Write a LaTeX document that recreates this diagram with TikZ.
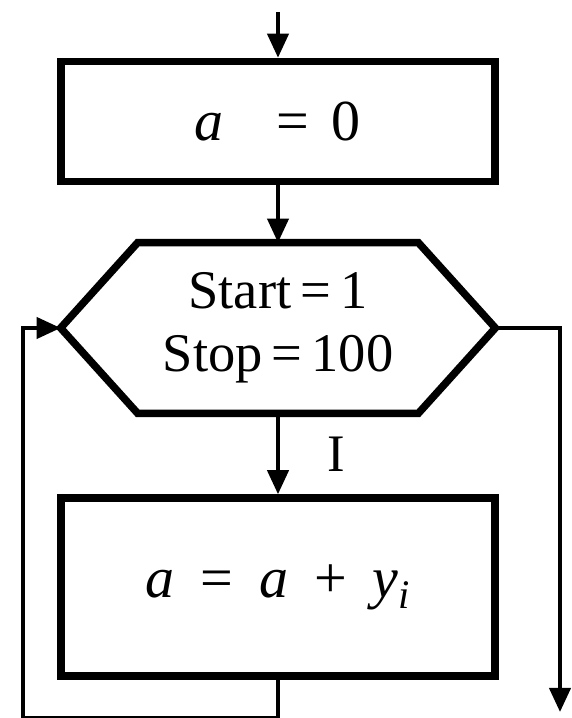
\documentclass[tikz,border=0pt]{standalone}
\usepackage{fontspec}
\setmainfont{Liberation Serif}
\usetikzlibrary{arrows.meta, positioning, calc}
\tikzset{
  box/.style={draw, line width=0.15cm, minimum width=8.68cm, inner sep=0pt,
              font=\fontsize{33}{38}\selectfont},
  hexbox/.style={minimum width=8.68cm, minimum height=3.4cm, inner sep=0pt, align=center,
                 font=\fontsize{31}{36}\selectfont},
  hexline/.style={line width=0.15cm, line join=miter},
  flow/.style={-{Triangle[length=0.48cm, width=0.42cm]}, line width=0.08cm},
  lbl/.style={inner sep=0pt, font=\fontsize{30}{36}\selectfont},
}
\begin{document}
\begin{tikzpicture}
\useasboundingbox (0,0) rectangle (11.42,14.36);
% entry point
\coordinate (in) at (5.56,14.12);
\node[box, minimum height=2.4cm] (init) at (5.56,11.93) {\textit{a}\hspace{0.9em}=\hspace{0.4em}0\hspace{0.8em}};
\node[hexbox] (hex) at (5.56,7.8) {Start\,=\,1\\Stop\,=\,100};
\node[box, minimum height=3.56cm] (sum) at (5.56,2.62)
  {\textit{a}\hspace{0.45em}=\hspace{0.45em}\textit{a}\hspace{0.45em}+\hspace{0.45em}\textit{y}\textsubscript{\textit{i}}};
\coordinate (out) at (11.2,0.12);
% hexagon outline
\draw[hexline] (hex.west) -- ([xshift=1.54cm]hex.north west) -- ([xshift=-1.54cm]hex.north east)
  -- (hex.east) -- ([xshift=-1.54cm]hex.south east) -- ([xshift=1.54cm]hex.south west) -- cycle;
% connectors
\draw[flow] (in) -- (init.north);
\draw[flow] (init.south) -- (hex.north);
\draw[flow] (hex.south) -- node[lbl, right=0.95cm] (idx) {I} (sum.north);
\draw[flow] (sum.south) -- ++(0,-0.76) -| ([xshift=-0.76cm]hex.west) -- (hex.west);
\draw[flow] (hex.east) -| (out);
\end{tikzpicture}
\end{document}
